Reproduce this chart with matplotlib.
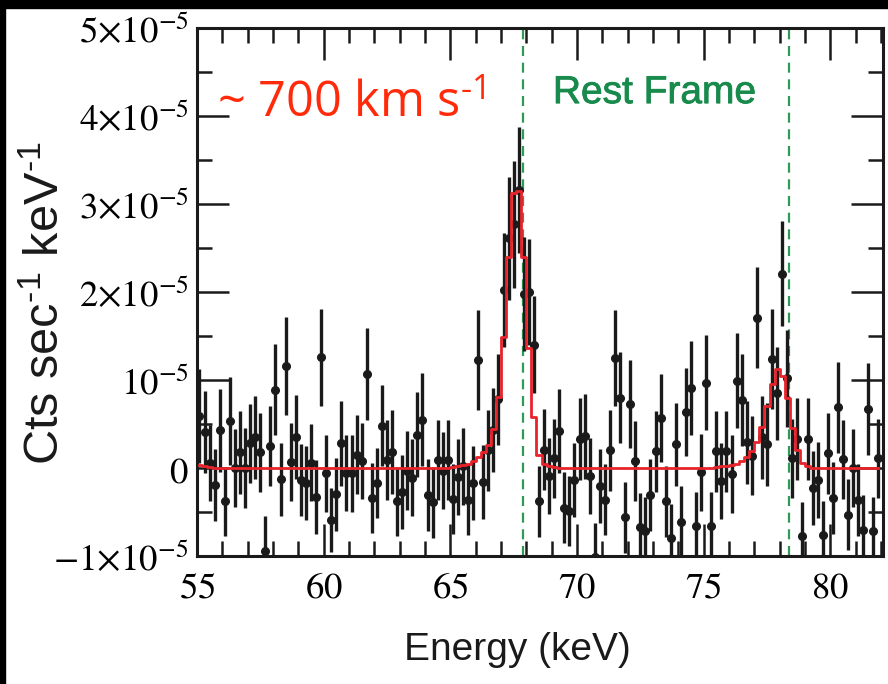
import numpy as np
import matplotlib.pyplot as plt
import matplotlib.patheffects as pe
from matplotlib.ticker import FixedLocator, MultipleLocator

plt.rcParams['mathtext.fontset'] = 'stix'

# spectrum, 0.2 keV bins, counts in units of 1e-5 cts/s/keV
energy = np.round(np.arange(55.1, 82.0, 0.2), 2)
counts = [
    0.59, 0.41, 0.06, -0.19, 0.43, -0.38, 0.53, 0.00, 0.18, 0.00,
    0.28, 0.35, 0.18, -0.94, 0.25, 0.89, -0.13, 1.16, 0.07, 0.35,
    -0.14, -0.17, 0.06, -0.33, 1.26, -0.06, -0.59, -0.30, 0.28, -0.06,
    -0.06, 0.15, 0.08, 1.07, -0.34, -0.17, 0.48, 0.09, 0.18, -0.38,
    -0.27, -0.03, -0.11, 0.38, 0.55, -0.31, -0.39, 0.09, -0.03, 0.09,
    -0.35, -0.10, 0.02, -0.36, -0.17, 1.23, -0.16, 0.20, 0.43, 0.78,
    2.02, 2.61, 2.77, 3.16, 1.98, 2.00, 1.40, -0.38, 0.21, -0.09,
    0.11, 0.42, -0.45, -0.49, -0.14, 0.33, 0.36, -0.09, -1.01, -0.20,
    -0.36, 0.20, 1.25, 0.80, -0.56, 0.73, 0.08, -0.67, -0.72, -0.31,
    0.19, 0.57, -0.38, -0.79, 0.27, -0.61, 0.64, 0.91, -0.66, -0.05,
    0.97, -0.66, 0.19, -0.15, 0.19, -0.07, 0.99, 0.77, 0.29, 0.14,
    1.71, 0.35, 0.27, 1.24, 0.85, 2.21, 1.02, 0.11, 0.33, -0.77,
    0.33, -0.23, -0.14, -0.76, 0.17, -0.34, 0.69, 0.10, -0.53, 0.00,
    -0.36, -0.70, 0.67, -0.72, 0.11,
]
errors = [
    0.53, 0.47, 0.43, 0.41, 0.47, 0.39, 0.50, 0.44, 0.47, 0.46,
    0.45, 0.47, 0.45, 0.40, 0.45, 0.52, 0.41, 0.56, 0.44, 0.48,
    0.41, 0.42, 0.44, 0.42, 0.55, 0.44, 0.36, 0.41, 0.48, 0.43,
    0.44, 0.45, 0.43, 0.52, 0.40, 0.40, 0.46, 0.45, 0.48, 0.39,
    0.42, 0.45, 0.44, 0.48, 0.53, 0.41, 0.40, 0.45, 0.44, 0.45,
    0.40, 0.43, 0.44, 0.40, 0.42, 0.57, 0.42, 0.46, 0.48, 0.52,
    0.65, 0.70, 0.72, 0.72, 0.65, 0.60, 0.55, 0.40, 0.46, 0.43,
    0.45, 0.48, 0.40, 0.40, 0.42, 0.47, 0.48, 0.43, 0.38, 0.42,
    0.40, 0.46, 0.55, 0.52, 0.40, 0.50, 0.45, 0.39, 0.39, 0.41,
    0.46, 0.50, 0.40, 0.38, 0.47, 0.40, 0.50, 0.53, 0.39, 0.44,
    0.54, 0.39, 0.46, 0.43, 0.46, 0.44, 0.54, 0.52, 0.47, 0.45,
    0.57, 0.47, 0.47, 0.57, 0.53, 0.60, 0.55, 0.45, 0.47, 0.38,
    0.47, 0.42, 0.43, 0.38, 0.46, 0.41, 0.52, 0.45, 0.40, 0.44,
    0.41, 0.39, 0.52, 0.39, 0.45,
]
model = [
    0.03, 0.02, 0.01, 0.00, 0.00, 0.00, 0.00, 0.00, 0.00, 0.00,
    0.00, 0.00, 0.00, 0.00, 0.00, 0.00, 0.00, 0.00, 0.00, 0.00,
    0.00, 0.00, 0.00, 0.00, 0.00, 0.00, 0.00, 0.00, 0.00, 0.00,
    0.00, 0.00, 0.00, 0.00, 0.00, 0.00, 0.00, 0.00, 0.00, 0.00,
    0.00, 0.00, 0.00, 0.00, 0.00, 0.00, 0.00, 0.00, 0.00, 0.00,
    0.01, 0.02, 0.03, 0.05, 0.08, 0.12, 0.18, 0.26, 0.44, 0.81,
    1.49, 2.40, 3.12, 3.15, 2.40, 1.36, 0.58, 0.15, 0.04, 0.02,
    0.01, 0.00, 0.00, 0.00, 0.00, 0.00, 0.00, 0.00, 0.00, 0.00,
    0.00, 0.00, 0.00, 0.00, 0.00, 0.00, 0.00, 0.00, 0.00, 0.00,
    0.00, 0.00, 0.00, 0.00, 0.00, 0.00, 0.00, 0.00, 0.00, 0.00,
    0.00, 0.00, 0.01, 0.02, 0.02, 0.03, 0.05, 0.08, 0.13, 0.19,
    0.29, 0.47, 0.70, 0.96, 1.12, 1.05, 0.79, 0.46, 0.20, 0.06,
    0.02, 0.00, 0.00, 0.00, 0.00, 0.00, 0.00, 0.00, 0.00, 0.00,
    0.00, 0.00, 0.00, 0.00, 0.00,
]
rest_lines = [67.87, 78.36]

yticks = [-1, 0, 1, 2, 3, 4, 5]
ylabels = [r'$-1{\times}10^{-5}$', r'$0$', r'$10^{-5}$', r'$2{\times}10^{-5}$',
           r'$3{\times}10^{-5}$', r'$4{\times}10^{-5}$', r'$5{\times}10^{-5}$']
xticks = [55, 60, 65, 70, 75, 80]

fig = plt.figure(figsize=(8.88, 6.84), dpi=100, facecolor='white')
ax = fig.add_axes([0.2218, 0.1871, 0.7726, 0.772])

ax.errorbar(energy, counts, yerr=errors, fmt='o', color='#1a1a1a', ms=5.5,
            elinewidth=2.4, capsize=0, zorder=3)
ax.plot(energy, model, drawstyle='steps-mid', color='#e8232b', lw=2, zorder=4)
for e in rest_lines:
    ax.axvline(e, color='#2e9a58', lw=1.6, ls=(0, (4.5, 3)), zorder=2)

ax.set_xlim(55, 82.08)
ax.set_ylim(-1, 5)
ax.xaxis.set_major_locator(FixedLocator(xticks))
ax.xaxis.set_minor_locator(MultipleLocator(1))
ax.yaxis.set_major_locator(FixedLocator(yticks))
ax.set_yticklabels(ylabels)
ax.yaxis.set_minor_locator(MultipleLocator(0.5))
ax.set_xticklabels([r'$%d$' % t for t in xticks])
ax.tick_params(which='both', direction='in', top=True, right=True,
               width=1.8, labelsize=26.5, color='#1a1a1a')
ax.tick_params(which='major', length=23)
ax.tick_params(which='minor', length=11)
ax.tick_params(axis='x', which='major', pad=9)
ax.tick_params(axis='y', which='major', pad=6)
for s in ax.spines.values():
    s.set_linewidth(2.2)
    s.set_color('#1a1a1a')

fig.text(0.052, 0.557, 'Cts sec$^{\\mathregular{\u20101}}$ keV$^{\\mathregular{\u20101}}$',
         rotation=90, ha='center', va='center', fontsize=35,
         family='Liberation Sans', color='#1a1a1a')
fig.text(0.583, 0.05, 'Energy (keV)', ha='center', va='center', fontsize=28,
         family='Liberation Sans', color='#1a1a1a')

ax.text(55.8, 4.13, '~ 700 km s$^{\\mathregular{\u20101}}$', color='#ff2a0a',
        fontsize=35, family='Open Sans', ha='left', va='center')
ax.text(69.05, 4.26, 'Rest Frame', color='#178a4c', fontsize=28,
        family='Liberation Sans', ha='left', va='center',
        path_effects=[pe.withStroke(linewidth=0.6, foreground='#178a4c')])

# black edges of the slide around the figure
fig.patches.append(plt.Rectangle((0, 1 - 8 / 684), 1, 8 / 684,
                                 transform=fig.transFigure, color='black'))
fig.patches.append(plt.Rectangle((0, 0), 5 / 888, 1,
                                 transform=fig.transFigure, color='black'))

fig.savefig('out.png', dpi=100, facecolor='white')
